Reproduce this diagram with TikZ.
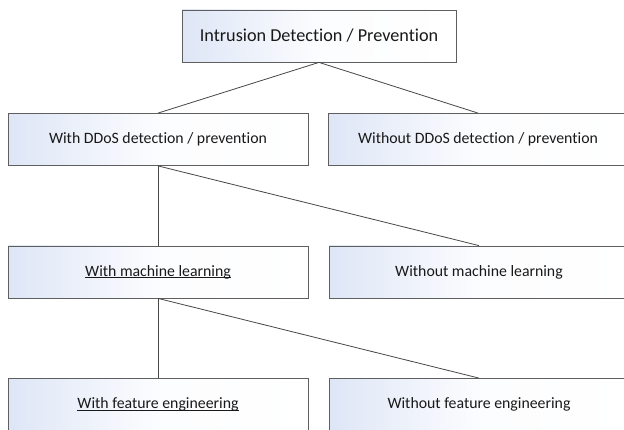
\documentclass[tikz,border=0pt]{standalone}
\usepackage{fontspec}
\setmainfont{Carlito}[Ligatures=NoCommon]
\definecolor{boxline}{RGB}{95,95,95}
\definecolor{linkline}{RGB}{70,70,70}
\definecolor{boxtint}{RGB}{222,230,246}
\definecolor{labeltext}{RGB}{25,25,25}
% underline drawn just below the baseline, through the descenders
\newcommand{\baseul}[1]{\setbox0\hbox{#1}\rlap{\rule[-1.6pt]{\wd0}{0.65pt}}\box0}
\tikzset{
  catbox/.style={draw=boxline, line width=0.8pt,
    left color=boxtint, right color=white, middle color=white!90!boxtint,
    minimum width=300pt, minimum height=52pt, inner sep=0pt,
    text=labeltext, font=\fontsize{15.8}{18}\selectfont},
  link/.style={draw=linkline, line width=0.8pt}
}
\begin{document}
\begin{tikzpicture}[x=1pt,y=1pt]
\useasboundingbox (0,0) rectangle (624,-430);
\begin{scope}
\clip (0,0) rectangle (624,-430);
\node[catbox, minimum width=274pt, font=\fontsize{18.2}{21}\selectfont] (root) at (319,-36) {Intrusion Detection / Prevention};
\node[catbox] (ddos)   at (158,-139.5) {With DDoS detection / prevention};
\node[catbox] (noddos) at (478,-139.5) {Without DDoS detection / prevention};
\node[catbox] (ml)     at (158,-272) {\baseul{With machine learning}};
\node[catbox] (noml)   at (479,-272) {Without machine learning};
\node[catbox] (fe)     at (158,-404.5) {\baseul{With feature engineering}};
\node[catbox] (nofe)   at (479,-404.5) {Without feature engineering};

\draw[link] (root.south) -- (ddos.north);
\draw[link] (root.south) -- (noddos.north);
\draw[link] (ddos.south) -- (ml.north);
\draw[link] (ddos.south) -- (noml.north);
\draw[link] (ml.south) -- (fe.north);
\draw[link] (ml.south) -- (nofe.north);
\end{scope}
\end{tikzpicture}
\end{document}
